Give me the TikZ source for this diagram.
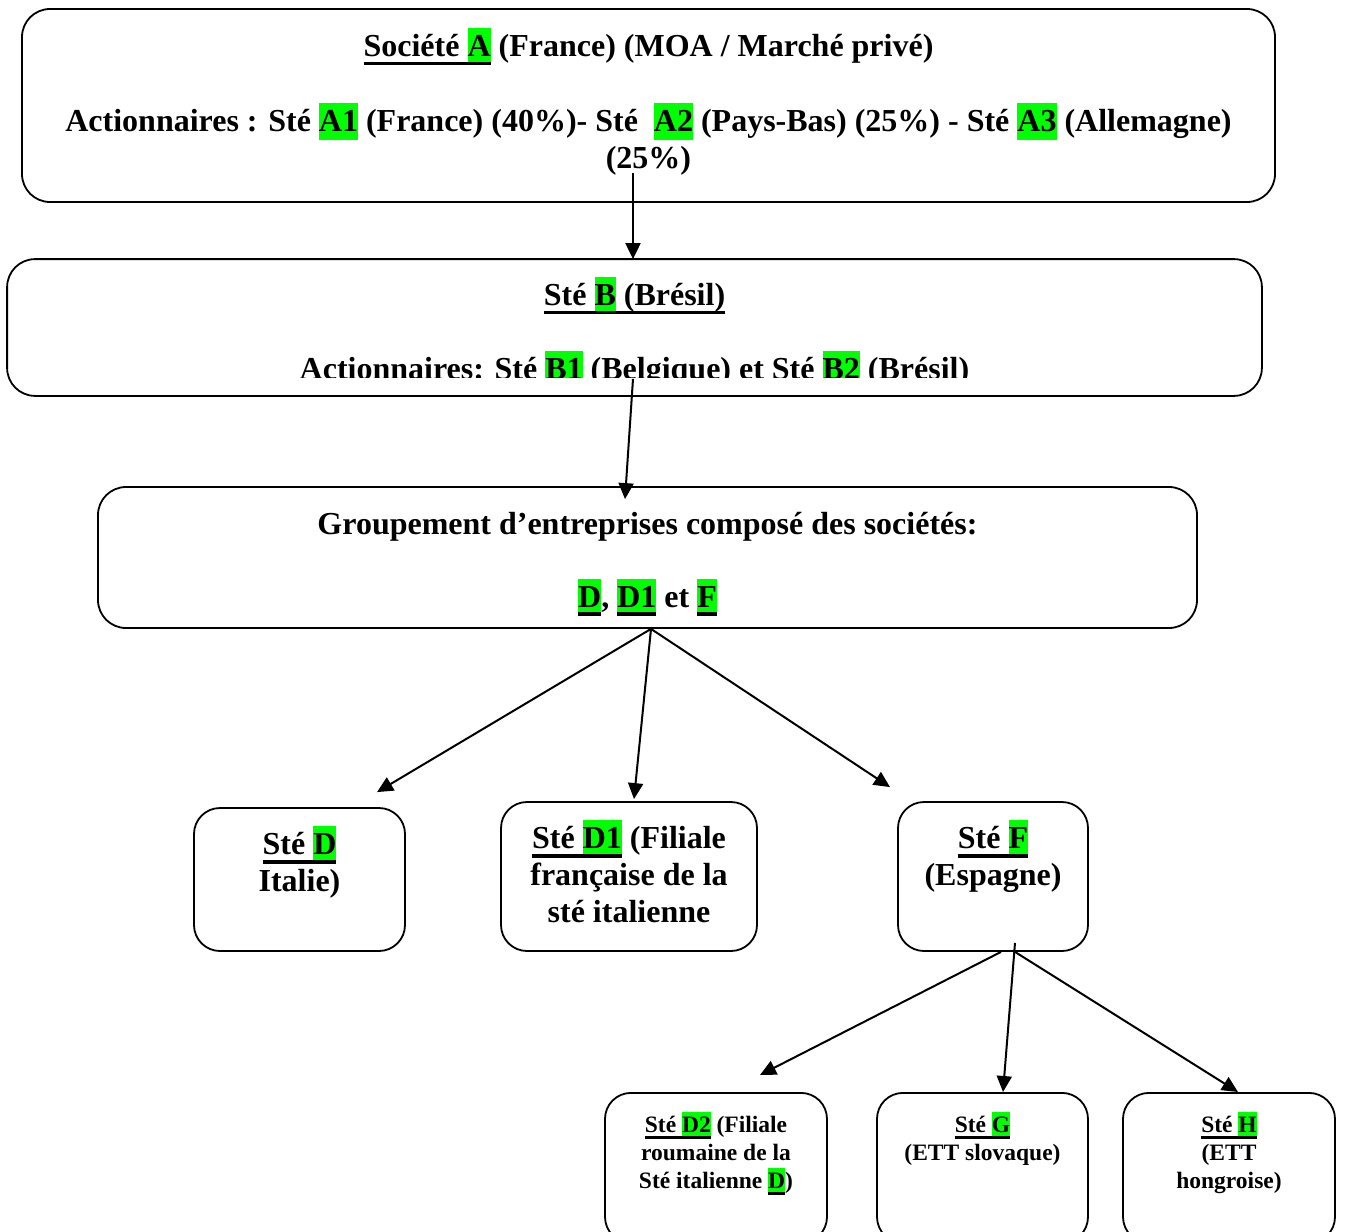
\documentclass[tikz,border=0pt]{standalone}
\usepackage{fontspec}
\setmainfont{Liberation Serif}
\usetikzlibrary{arrows.meta}
\definecolor{hlgreen}{RGB}{0,255,0}
\newcommand\hlt[1]{{\setlength{\fboxsep}{0pt}\colorbox{hlgreen}{\rule[-0.26em]{0pt}{1.145em}#1}}}
\newcommand\ulb[1]{\setbox0\hbox{#1}\copy0\llap{\rule[-0.28em]{\wd0}{0.11em}}}
\newcommand\dn[1]{\rule[-#1]{0pt}{0pt}}
\begin{document}
\begin{tikzpicture}[x=1pt,y=-1pt]
\tikzstyle{box}=[draw,line width=1.8pt,rounded corners=28pt,align=center,inner sep=0pt,font=\fontsize{32}{37}\selectfont\bfseries]
\tikzstyle{small}=[box,rounded corners=26pt,anchor=north,minimum height=150pt,font=\fontsize{23.5}{28}\selectfont\bfseries]
\tikzstyle{arr}=[line width=2pt,-{Triangle[length=16pt,width=15pt]}]
    \useasboundingbox (0,0) rectangle (1345,1232);
    \clip (0,0) rectangle (1345,1232);
    \node[box,minimum width=1253pt,minimum height=193pt] (soca) at (648.5,105.5) {\ulb{Société \hlt{A}} (France) (MOA / Marché privé)\\[37pt]Actionnaires : Sté \hlt{A1} (France) (40\%)- Sté~ \hlt{A2} (Pays-Bas) (25\%) - Sté \hlt{A3} (Allemagne)\\(25\%)\dn{14pt}};
    \begin{scope}
    \clip (0,0) rectangle (1345,377);
    \node[box,draw=none,minimum width=1253pt,minimum height=135pt] (stb) at (634.5,327.5) {\rule{0pt}{38.5pt}\ulb{Sté \hlt{B} (Brésil)}\\[36pt]Actionnaires: Sté \hlt{B1} (Belgique) et Sté \hlt{B2} (Brésil)};
    \end{scope}
    \draw[line width=1.8pt,rounded corners=28pt] (stb.south west) rectangle (stb.north east);
    \node[box,minimum width=1099pt,minimum height=141pt] (grp) at (647.5,557.5) {\rule{0pt}{35pt}Groupement d’entreprises composé des sociétés:\\[36pt]\ulb{\hlt{D}}, \ulb{\hlt{D1}} et \ulb{\hlt{F}}};
    \node[box,rounded corners=26pt,minimum width=211pt,minimum height=143pt] (std) at (299.5,879.5) {\ulb{Sté \hlt{D}}\\Italie)\\\dn{4pt}};
    \node[box,rounded corners=26pt,minimum width=256pt,minimum height=149pt] (stdone) at (629,876.5) {\ulb{Sté \hlt{D1}} (Filiale\\française de la\\sté italienne\dn{10pt}};
    \node[box,rounded corners=26pt,minimum width=190pt,minimum height=149pt] (stf) at (993,876.5) {\ulb{Sté \hlt{F}}\\(Espagne)\\\dn{10pt}};
    \node[small,minimum width=222pt] (stdtwo) at (716,1092) {\ulb{Sté \hlt{D2}} (Filiale\\roumaine de la\\Sté italienne \ulb{\hlt{D}})\\\dn{8pt}};
    \node[small,minimum width=211pt] (stg) at (982.5,1092) {\ulb{Sté \hlt{G}}\\(ETT slovaque)\\\mbox{}\\\dn{8pt}};
    \node[small,minimum width=212pt] (sth) at (1229,1092) {\ulb{Sté \hlt{H}}\\(ETT\\hongroise)\\\dn{8pt}};
    \draw[arr] ([xshift=-15.5pt,yshift=30pt]soca.south) -- ([xshift=-1.5pt]stb.north);
    \draw[arr] ([xshift=-1.5pt,yshift=17pt]stb.south) -- ([xshift=-22.5pt,yshift=-13pt]grp.north);
    \draw[arr] ([xshift=3.5pt]grp.south) -- ([xshift=77.5pt,yshift=15pt]std.north);
    \draw[arr] ([xshift=3.5pt]grp.south) -- ([xshift=5pt,yshift=2pt]stdone.north);
    \draw[arr] ([xshift=3.5pt]grp.south) -- ([xshift=-103pt,yshift=14pt]stf.north);
    \draw[arr] ([xshift=8pt]stf.south) -- ([xshift=44pt,yshift=17pt]stdtwo.north);
    \draw[arr] ([xshift=22pt,yshift=9pt]stf.south) -- ([xshift=20.5pt]stg.north);
    \draw[arr] ([xshift=22pt]stf.south) -- ([xshift=9pt]sth.north);
\end{tikzpicture}
\end{document}
